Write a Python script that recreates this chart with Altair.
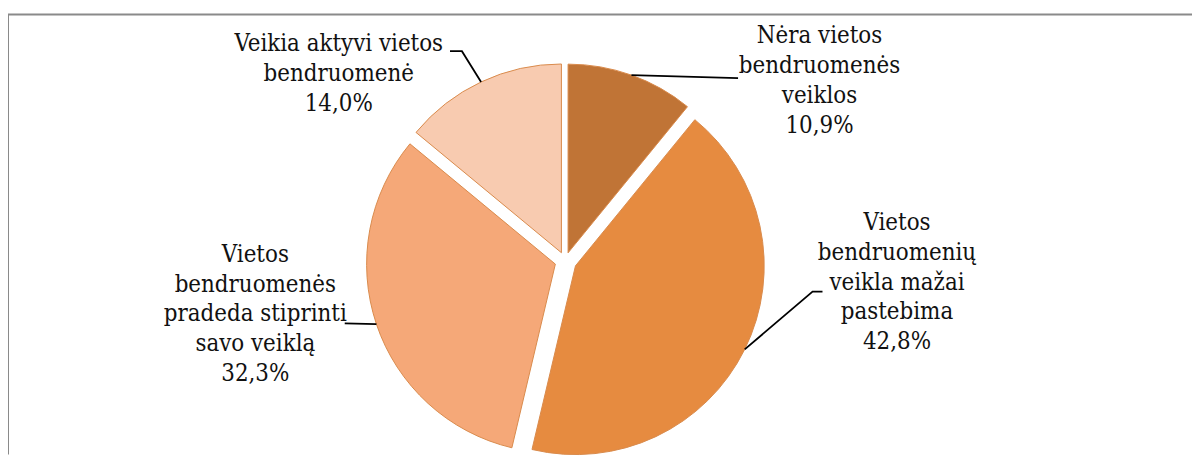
import altair as alt
import pandas as pd
import numpy as np

# ---- data ----
categories = [
    ["Nėra vietos", "bendruomenės", "veiklos"],
    ["Vietos", "bendruomenių", "veikla mažai", "pastebima"],
    ["Vietos", "bendruomenės", "pradeda stiprinti", "savo veiklą"],
    ["Veikia aktyvi vietos", "bendruomenė"],
]
values = [10.9, 42.8, 32.3, 14.0]
pct_labels = ["10,9%", "42,8%", "32,3%", "14,0%"]

# ---- styles / layout (pixels in chart space) ----
colors = ["#C07436", "#E68B40", "#F5A878", "#F8CBB0"]
explode = [8.5, 11.5, 10.5, 9.0]
R = 190
CX, CY = 561, 248
W, H = 1192, 443
label_x = [817, 895, 249, 333]
label_y = [29, 217, 249, 37]
elbows = [
    [(735, 64)],
    [(810, 279), (820, 279)],
    [(339, 311)],
    [(457, 37), (445, 37)],
]

keys = [" ".join(c) for c in categories]
start = np.concatenate([[0], np.cumsum(values)[:-1]])
end = np.cumsum(values)
mid = (start + end) / 2 / 100 * 2 * np.pi
ox = CX + np.array(explode) * np.sin(mid)
oy = CY - np.array(explode) * np.cos(mid)

pie_df = pd.DataFrame({"cat": keys, "value": values, "start": start, "end": end,
                       "cx": ox, "cy": oy})

text_df = pd.DataFrame({
    "cat": keys,
    "txt": ["\n".join(c + [p]) for c, p in zip(categories, pct_labels)],
    "x": label_x, "y": label_y,
})

rows = []
for i, k in enumerate(keys):
    sx = ox[i] + R * np.sin(mid[i])
    sy = oy[i] - R * np.cos(mid[i])
    pts = [(sx, sy)] + elbows[i]
    for j, (px, py) in enumerate(pts):
        rows.append({"cat": k, "ord": j, "x": px, "y": py})
lead_df = pd.DataFrame(rows)

one = pd.DataFrame({"a": [0]})
border_top = alt.Chart(one).mark_rule(color="#8a8a8a", strokeWidth=2).encode(
    x=alt.value(0), x2=alt.value(W), y=alt.value(0))
border_left = alt.Chart(one).mark_rule(color="#8a8a8a", strokeWidth=2).encode(
    x=alt.value(0), y=alt.value(0), y2=alt.value(H))

pie = alt.Chart(pie_df).mark_arc(outerRadius=R, stroke="#D98A4C", strokeWidth=1).encode(
    theta=alt.Theta("start:Q", scale=alt.Scale(domain=[0, 100])),
    theta2="end:Q",
    x=alt.X("cx:Q", scale=None, axis=None),
    y=alt.Y("cy:Q", scale=None, axis=None),
    color=alt.Color("cat:N", scale=alt.Scale(domain=keys, range=colors), legend=None),
)

leads = alt.Chart(lead_df).mark_line(color="#000000", strokeWidth=1.8).encode(
    x=alt.X("x:Q", scale=None, axis=None),
    y=alt.Y("y:Q", scale=None, axis=None),
    detail="cat:N",
    order="ord:Q",
)

labels = alt.Chart(text_df).mark_text(
    font="DejaVu Serif Condensed",
    fontSize=24, lineHeight=30, lineBreak="\n",
    align="center", baseline="alphabetic", color="#111111",
).encode(
    x=alt.X("x:Q", scale=None, axis=None),
    y=alt.Y("y:Q", scale=None, axis=None),
    text="txt:N",
)

chart = alt.layer(border_top, border_left, pie, leads, labels).properties(
    width=W, height=H,
    padding={"left": 0, "top": 5, "right": 0, "bottom": 0},
    autosize=alt.AutoSizeParams(type="none"),
    background="#ffffff",
).configure_view(stroke=None)

chart.save("out.html", embed_options={"renderer": "svg", "actions": False})
